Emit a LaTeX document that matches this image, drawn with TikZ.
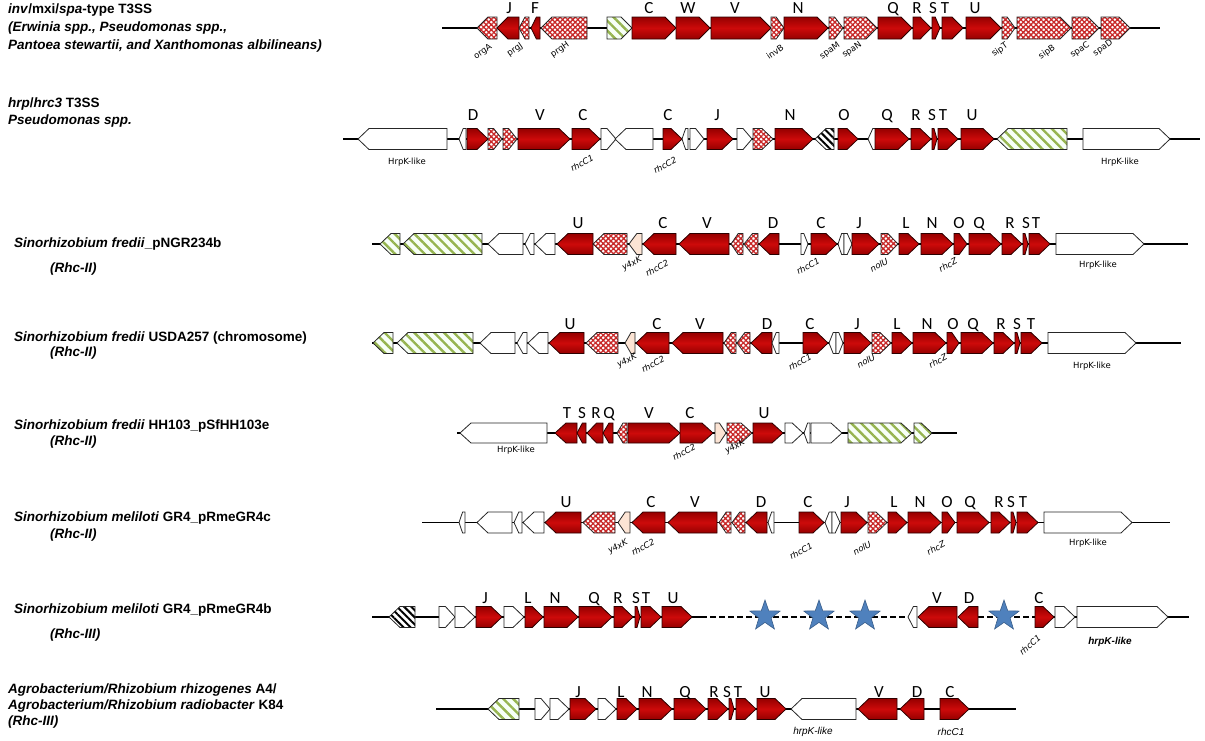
\documentclass[tikz,border=0pt]{standalone}
\usepackage{fontspec}
\setmainfont{Liberation Sans}
\newfontfamily\ltrfont{Carlito}
\newfontfamily\gfont{DejaVu Sans}
\usetikzlibrary{patterns.meta,shapes.geometric}
\definecolor{gred}{RGB}{205,10,10}
\definecolor{gdark}{RGB}{150,0,0}
\definecolor{hatchc}{RGB}{200,40,40}
\definecolor{grnc}{RGB}{150,180,80}
\definecolor{peach}{RGB}{252,228,212}
\definecolor{starc}{RGB}{79,129,189}
\definecolor{stard}{RGB}{56,93,138}
\newcommand\gnR[3]{%
  \pgfmathsetmacro\glen{#2-#1}%
  \pgfmathsetmacro\ghd{min(11,0.6*\glen)}%
  \path[gene,#3] (#1,\ry-\hh) -- ({#2-\ghd},\ry-\hh) -- (#2,\ry) -- ({#2-\ghd},\ry+\hh) -- (#1,\ry+\hh) -- cycle;}
\newcommand\gnL[3]{%
  \pgfmathsetmacro\glen{#2-#1}%
  \pgfmathsetmacro\ghd{min(11,0.6*\glen)}%
  \path[gene,#3] (#2,\ry-\hh) -- ({#1+\ghd},\ry-\hh) -- (#1,\ry) -- ({#1+\ghd},\ry+\hh) -- (#2,\ry+\hh) -- cycle;}
\tikzset{
  gene/.style={draw=black!85, line width=0.8pt, line join=miter},
  rg/.style={top color=gdark, bottom color=gdark, middle color=gred, draw=black!70!gdark},
  hg/.style={preaction={fill=white}, pattern={Hatch[angle=45,distance=3.6pt,line width=1.3pt]}, pattern color=hatchc},
  gg/.style={preaction={fill=green!3}, pattern={Lines[angle=-45,distance=7pt,line width=2.4pt]}, pattern color=grnc},
  bg/.style={preaction={fill=white}, pattern={Lines[angle=-45,distance=5pt,line width=2pt]}, pattern color=black},
  wg/.style={fill=white},
  pg/.style={fill=peach},
  bb/.style={line width=1.6pt},
  lt/.style={font=\ltrfont\fontsize{17}{17}\selectfont, anchor=base, inner sep=0},
  gl/.style={font=\gfont\itshape\fontsize{8.5}{9}\selectfont, rotate=28, inner sep=0},
  gu/.style={font=\gfont\fontsize{8.5}{9}\selectfont, inner sep=0},
  gr/.style={font=\gfont\fontsize{8.5}{9}\selectfont, rotate=35, inner sep=0},
  ha/.style={font=\itshape\fontsize{10}{11}\selectfont, inner sep=0},
  lab/.style={font=\bfseries\fontsize{13.5}{15}\selectfont, anchor=west, inner sep=0},
  strs/.style={star, star points=5, star point ratio=2.5, minimum size=32pt, fill=starc, draw=stard, line width=0.6pt, inner sep=0}
}
\begin{document}
\begin{tikzpicture}[x=1pt,y=-1pt]
\useasboundingbox (0,0) rectangle (1205,740);
% ---------- left labels
\node[lab] (t1a) at (8,10) {\textit{inv}/mxi/\textit{spa}-type T3SS};
\node[lab] (t1b) at (8,28) {\textit{(Erwinia spp., Pseudomonas spp.,}};
\node[lab] (t1c) at (8,46) {\textit{Pantoea stewartii, and Xanthomonas albilineans)}};
\node[lab] (t2a) at (8,104) {\textit{hrp}/\textit{hrc3} T3SS};
\node[lab] (t2b) at (8,121) {\textit{Pseudomonas spp.}};
\node[lab] (t3a) at (14,244) {\textit{Sinorhizobium fredii}\_pNGR234b};
\node[lab] (t3b) at (50,269) {\textit{(Rhc-II)}};
\node[lab] (t4a) at (14,338) {\textit{Sinorhizobium fredii} USDA257 (chromosome)};
\node[lab] (t4b) at (50,353) {\textit{(Rhc-II)}};
\node[lab] (t5a) at (14,426) {\textit{Sinorhizobium fredii} HH103\_pSfHH103e};
\node[lab] (t5b) at (50,442) {\textit{(Rhc-II)}};
\node[lab] (t6a) at (14,518) {\textit{Sinorhizobium meliloti} GR4\_pRmeGR4c};
\node[lab] (t6b) at (50,535) {\textit{(Rhc-II)}};
\node[lab] (t7a) at (14,610) {\textit{Sinorhizobium meliloti} GR4\_pRmeGR4b};
\node[lab] (t7b) at (50,635) {\textit{(Rhc-III)}};
\node[lab] (t8a) at (8,690) {\textit{Agrobacterium/Rhizobium rhizogenes} A4/};
\node[lab] (t8b) at (8,706) {\textit{Agrobacterium/Rhizobium radiobacter} K84};
\node[lab] (t8c) at (8,722) {\textit{(Rhc-III)}};
% ---------- row 1
\def\ry{28}\def\hh{11}
\draw[bb] (442,\ry) -- (1160,\ry);
\gnL{477}{497}{hg}\gnL{497}{519}{rg}\gnL{519}{529}{hg}\gnL{531}{540}{rg}\gnL{541}{587}{hg}
\gnR{607}{632}{gg}\gnR{632}{676}{rg}\gnR{676}{710}{rg}\gnR{711}{771}{rg}\gnR{771}{784}{hg}
\gnR{784}{828}{rg}\gnR{829}{843}{hg}\gnR{844}{877}{hg}\gnR{878}{912}{rg}\gnR{913}{931}{rg}
\gnR{932}{940}{rg}\gnR{942}{963}{rg}\gnR{966}{1001}{rg}\gnR{1002}{1015}{hg}\gnR{1017}{1071}{hg}
\gnR{1072}{1099}{hg}\gnR{1101}{1130}{hg}
\foreach \x/\t [count=\i] in {509/J,535/F,649/C,688/W,735/V,798/N,893/Q,917/R,933/S,945/T,975/U}
  \node[lt] (a\i) at (\x,13) {\t};
\foreach \x/\y/\t [count=\i] in {483/52/orgA,515/50/prgJ,560/50/prgH,775/52/invB,830/51/spaM,852/50/spaN,1000/50/sipT,1047/52/sipB,1080/50/spaC,1103/48/spaD}
  \node[gr] (b\i) at (\x,\y) {\t};
% ---------- row 2
\def\ry{139}\def\hh{10.5}
\draw[bb] (343,\ry) -- (1200,\ry);
\gnL{358}{447}{wg}\gnL{459}{466}{wg}\gnR{467}{488}{rg}\gnR{488}{502}{hg}\gnR{503}{517}{hg}
\gnR{518}{570}{rg}\gnR{572}{600}{rg}\gnR{601}{616}{wg}\gnL{615}{653}{wg}\gnR{663}{682}{rg}
\gnL{682}{688}{wg}\gnR{690}{704}{wg}\gnR{707}{733}{rg}\gnR{737}{752}{wg}\gnR{753}{773}{hg}
\gnR{775}{813}{rg}\gnL{815}{834}{bg}\gnR{838}{858}{rg}\gnL{868}{876}{wg}\gnR{875}{909}{rg}
\gnR{911}{931}{rg}\gnR{932}{937}{rg}\gnR{938}{958}{rg}\gnR{961}{994}{rg}\gnL{997}{1067}{gg}
\gnR{1083}{1170}{wg}
\foreach \x/\t [count=\i] in {473/D,540/V,583/C,668/C,717/J,790/N,844/O,887/Q,916/R,932/S,943/T,972/U}
  \node[lt] (c\i) at (\x,120) {\t};
\node[gu] (d1) at (407,162) {HrpK-like};
\node[gl] (d2) at (582,163) {rhcC1};
\node[gl] (d3) at (665,165) {rhcC2};
\node[gu] (d4) at (1120,162) {HrpK-like};
% ---------- row 3
\def\ry{244}\def\hh{10.5}
\draw[bb] (372,\ry) -- (1188,\ry);
\gnL{380}{400}{gg}\gnL{403}{482}{gg}\gnL{488}{523}{wg}\gnL{525}{534}{wg}\gnL{535}{555}{wg}
\gnL{557}{593}{rg}\gnL{593}{627}{hg}\gnL{629}{642}{pg}\gnL{643}{676}{rg}\gnL{679}{729}{rg}
\gnL{731}{743}{hg}\gnL{744}{758}{hg}\gnL{759}{779}{rg}\gnR{801}{808}{wg}\gnR{811}{837}{rg}
\gnL{838}{844}{wg}\gnR{844}{852}{wg}\gnR{852}{879}{rg}\gnR{881}{898}{hg}\gnR{899}{919}{rg}
\gnR{921}{953}{rg}\gnR{954}{967}{rg}\gnR{969}{1001}{rg}\gnR{1002}{1022}{rg}\gnR{1023}{1028}{rg}
\gnR{1029}{1050}{rg}\gnR{1056}{1144}{wg}
\foreach \x/\t [count=\i] in {578/U,663/C,707/V,773/D,821/C,859/J,906/L,932/N,959/O,979/Q,1010/R,1026/S,1036/T}
  \node[lt] (e\i) at (\x,228) {\t};
\foreach \x/\y/\t [count=\i] in {632/264/y4xK,657/268/rhcC2,808/266/rhcC1,879/265/nolU,948/265/rhcZ}
  \node[gl] (f\i) at (\x,\y) {\t};
\node[gu] (f6) at (1098,265) {HrpK-like};
% ---------- row 4
\def\ry{343}\def\hh{10.5}
\draw[bb] (372,\ry) -- (1181,\ry);
\gnL{373}{393}{gg}\gnL{397}{473}{gg}\gnL{480}{515}{wg}\gnL{517}{527}{wg}\gnL{528}{548}{wg}
\gnL{549}{584}{rg}\gnL{586}{618}{hg}\gnL{625}{635}{pg}\gnL{636}{669}{rg}\gnL{672}{723}{rg}
\gnL{724}{736}{hg}\gnL{737}{750}{hg}\gnL{751}{772}{rg}\gnL{772}{779}{wg}\gnR{803}{828}{rg}
\gnL{829}{836}{wg}\gnR{836}{843}{wg}\gnR{844}{871}{rg}\gnR{872}{891}{hg}\gnR{892}{912}{rg}
\gnR{913}{946}{rg}\gnR{947}{959}{rg}\gnR{961}{993}{rg}\gnR{994}{1014}{rg}\gnR{1015}{1020}{rg}
\gnR{1021}{1042}{rg}\gnR{1048}{1136}{wg}
\foreach \x/\t [count=\i] in {570/U,657/C,700/V,767/D,810/C,857/J,897/L,927/N,953/O,973/Q,1001/R,1017/S,1031/T}
  \node[lt] (g\i) at (\x,329) {\t};
\foreach \x/\y/\t [count=\i] in {627/361/y4xK,653/364/rhcC2,800/362/rhcC1,866/361/nolU,938/361/rhcZ}
  \node[gl] (h\i) at (\x,\y) {\t};
\node[gu] (h6) at (1092,366) {HrpK-like};
% ---------- row 5
\def\ry{433}\def\hh{10}
\draw[bb] (457,\ry) -- (957,\ry);
\gnL{460}{547}{wg}\gnL{555}{577}{rg}\gnL{577}{586}{rg}\gnL{587}{603}{rg}\gnL{603}{613}{rg}
\gnL{617}{627}{hg}\gnR{628}{680}{rg}\gnR{680}{713}{rg}\gnR{715}{726}{pg}\gnR{727}{752}{hg}
\gnR{753}{783}{rg}\gnR{785}{803}{wg}\gnL{804}{810}{wg}\gnR{811}{842}{wg}\gnR{848}{912}{gg}
\gnR{914}{932}{gg}
\foreach \x/\t [count=\i] in {567/T,582/S,596/R,609/Q,649/V,690/C,764/U}
  \node[lt] (k\i) at (\x,418) {\t};
\node[gu] (m1) at (516,450) {HrpK-like};
\node[gl] (m2) at (684,452) {rhcC2};
\node[gl] (m3) at (735,447) {y4xK};
% ---------- row 6
\def\ry{522.5}\def\hh{10.5}
\draw[bb] (422,\ry) -- (1170,\ry);
\gnL{459}{465}{wg}\gnL{477}{512}{wg}\gnL{514}{522}{wg}\gnL{523}{544}{wg}\gnL{545}{581}{rg}
\gnL{583}{615}{hg}\gnL{618}{630}{pg}\gnL{632}{665}{rg}\gnL{668}{717}{rg}\gnL{719}{731}{hg}
\gnL{732}{745}{hg}\gnL{746}{767}{rg}\gnL{768}{774}{wg}\gnR{799}{824}{rg}\gnL{825}{832}{wg}
\gnR{832}{840}{wg}\gnR{841}{867}{rg}\gnR{868}{887}{hg}\gnR{888}{907}{rg}\gnR{908}{941}{rg}
\gnR{942}{955}{rg}\gnR{957}{989}{rg}\gnR{991}{1010}{rg}\gnR{1011}{1016}{rg}\gnR{1017}{1038}{rg}
\gnR{1044}{1132}{wg}
\foreach \x/\t [count=\i] in {566/U,651/C,695/V,761/D,808/C,847/J,894/L,920/N,947/O,970/Q,999/R,1011/S,1023/T}
  \node[lt] (n\i) at (\x,507) {\t};
\foreach \x/\y/\t [count=\i] in {618/547/y4xK,643/547/rhcC2,801/551/rhcC1,862/548/nolU,936/548/rhcZ}
  \node[gl] (p\i) at (\x,\y) {\t};
\node[gu] (p6) at (1088,543) {HrpK-like};
% ---------- row 7
\def\ry{617}\def\hh{10.5}
\draw[bb] (372,\ry) -- (701,\ry);
\draw[bb,dash pattern=on 6pt off 3pt] (701,\ry) -- (908,\ry);
\draw[bb,dash pattern=on 6pt off 3pt] (978,\ry) -- (1035,\ry);
\draw[bb] (1035,\ry) -- (1189,\ry);
\gnL{389}{415}{bg}\gnR{439}{455}{wg}\gnR{455}{475}{wg}\gnR{476}{502}{rg}\gnR{504}{524}{wg}
\gnR{525}{543}{rg}\gnR{544}{578}{rg}\gnR{579}{612}{rg}\gnR{614}{633}{rg}\gnR{635}{640}{rg}
\gnR{641}{661}{rg}\gnR{662}{692}{rg}\gnL{908}{917}{wg}\gnL{918}{957}{rg}\gnL{958}{978}{rg}
\gnR{1035}{1054}{rg}\gnR{1055}{1075}{wg}\gnR{1077}{1168}{wg}
\foreach \x/\t [count=\i] in {485/J,528/L,555/N,594/Q,618/R,636/S,646/T,673/U,937/V,969/D,1039/C}
  \node[lt] (q\i) at (\x,603) {\t};
\foreach \x [count=\i] in {765,819,865,1004}
  \node[strs] (s\i) at (\x,616) {};
\node[gl,rotate=12] (r1) at (1030,645) {rhcC1};
\node[ha] (r2) at (1110,642) {\textbf{hrpK-like}};
% ---------- row 8
\def\ry{709}\def\hh{10.5}
\draw[bb] (436,\ry) -- (1016,\ry);
\gnL{488}{519}{gg}\gnR{535}{550}{wg}\gnR{550}{569}{wg}\gnR{570}{596}{rg}\gnR{598}{616}{wg}
\gnR{617}{637}{rg}\gnR{639}{672}{rg}\gnR{674}{706}{rg}\gnR{708}{728}{rg}\gnR{729}{734}{rg}
\gnR{736}{756}{rg}\gnR{757}{786}{rg}\gnL{791}{856}{wg}\gnL{858}{897}{rg}\gnL{900}{924}{rg}
\gnR{940}{969}{rg}
\foreach \x/\t [count=\i] in {578/J,621/L,647/N,685/Q,714/R,727/S,738/T,765/U,879/V,917/D,950/C}
  \node[lt] (u\i) at (\x,697) {\t};
\node[ha] (v1) at (813,732) {hrpK-like};
\node[ha] (v2) at (951,732) {rhcC1};
\end{tikzpicture}
\end{document}
